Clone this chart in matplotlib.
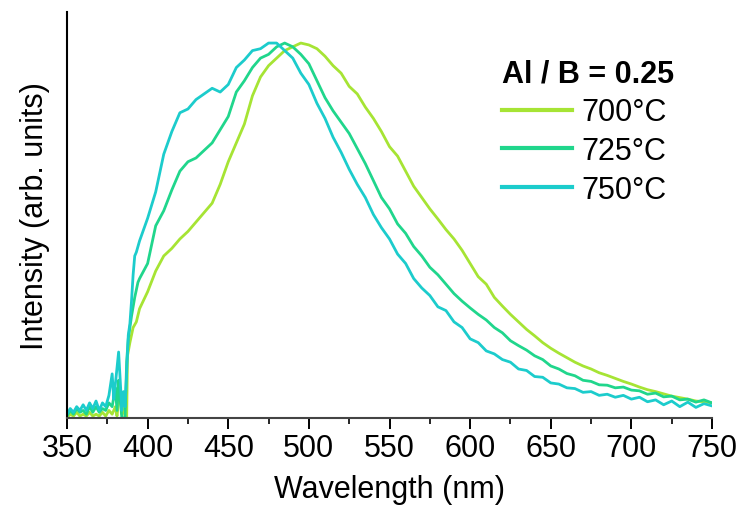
import numpy as np
import matplotlib
matplotlib.use("Agg")
from matplotlib import pyplot as plt
from matplotlib.ticker import MultipleLocator

plt.rcParams['font.family'] = ['Liberation Sans', 'DejaVu Sans']

# --- 700 C ---
wl_700 = [350, 352, 354, 356, 358, 360, 362, 364, 366, 368, 370, 372, 374, 376, 378, 380, 381,
          383, 384, 385, 386, 387, 387.5, 389, 391, 393, 395,
          400, 405, 410, 415, 420, 425, 430, 435, 440, 445, 450, 455, 460, 465, 470, 475, 480,
          485, 490, 495, 500, 505, 510, 515, 520, 525, 530, 535, 540, 545, 550, 555, 560, 565,
          570, 575, 580, 585, 590, 595, 600, 605, 610, 615, 620, 625, 630, 635, 640, 645, 650,
          655, 660, 665, 670, 675, 680, 685, 690, 695, 700, 705, 710, 715, 720, 725, 730, 735,
          740, 745, 750]
int_700 = [0.0, 0.01, 0.005, 0.015, 0.005, 0.01, 0.005, 0.015, 0.005, 0.01, 0.005, 0.015, 0.005,
           0.02, 0.01, 0.03, 0.005, 0.08, 0.01, 0.05, 0.0, 0.0, 0.165, 0.2, 0.24, 0.255, 0.29,
           0.335, 0.39, 0.43, 0.45, 0.475, 0.495, 0.52, 0.545, 0.57, 0.62, 0.68, 0.73, 0.78, 0.855,
           0.905, 0.935, 0.955, 0.975, 0.985, 0.995, 0.99, 0.98, 0.96, 0.935, 0.915, 0.88, 0.86,
           0.825, 0.795, 0.76, 0.72, 0.695, 0.655, 0.615, 0.585, 0.555, 0.528, 0.5, 0.475, 0.445,
           0.41, 0.375, 0.355, 0.32, 0.297, 0.275, 0.255, 0.235, 0.218, 0.2, 0.185, 0.172, 0.16,
           0.148, 0.138, 0.13, 0.12, 0.113, 0.105, 0.097, 0.09, 0.082, 0.075, 0.07, 0.064, 0.058,
           0.054, 0.05, 0.045, 0.043, 0.04]

# --- 725 C ---
wl_725 = [350, 352, 354, 356, 358, 360, 362, 364, 366, 368, 370, 372, 374, 376, 378, 380, 381,
          382, 383, 384, 386, 387, 388, 390, 392, 394,
          395, 400, 405, 410, 415, 420, 425, 430, 435, 440, 445, 450, 455, 460, 465, 470, 475,
          480, 485, 490, 495, 500, 505, 510, 515, 520, 525, 530, 535, 540, 545, 550, 555, 560,
          565, 570, 575, 580, 585, 590, 595, 600, 605, 610, 615, 620, 625, 630, 635, 640, 645,
          650, 655, 660, 665, 670, 675, 680, 685, 690, 695, 700, 705, 710, 715, 720, 725, 730,
          735, 740, 745, 750]
int_725 = [0.005, 0.02, 0.01, 0.025, 0.015, 0.02, 0.01, 0.03, 0.015, 0.03, 0.015, 0.025, 0.02,
           0.04, 0.03, 0.08, 0.02, 0.1, 0.05, 0.0, 0.0, 0.15, 0.21, 0.27, 0.32, 0.36,
           0.37, 0.41, 0.51, 0.55, 0.605, 0.655, 0.68, 0.69, 0.71, 0.73, 0.765, 0.8, 0.865, 0.895,
           0.93, 0.955, 0.965, 0.985, 0.995, 0.985, 0.965, 0.94, 0.895, 0.85, 0.815, 0.785, 0.755,
           0.715, 0.675, 0.63, 0.585, 0.555, 0.515, 0.49, 0.455, 0.43, 0.4, 0.38, 0.355, 0.33,
           0.31, 0.292, 0.275, 0.26, 0.24, 0.226, 0.205, 0.192, 0.18, 0.165, 0.155, 0.138, 0.13,
           0.118, 0.112, 0.1, 0.097, 0.088, 0.087, 0.08, 0.082, 0.074, 0.072, 0.063, 0.066, 0.056,
           0.058, 0.048, 0.05, 0.042, 0.048, 0.04]

# --- 750 C ---
wl_750 = [350, 352, 354, 356, 358, 360, 362, 364, 366, 368, 370, 372, 374, 376, 378, 379, 380,
          382, 383, 384, 385, 386, 387, 388, 389, 390, 391, 392, 393,
          395, 400, 405, 410, 415, 420, 425, 430, 435, 440, 445, 450, 455, 460, 465, 470, 475,
          480, 485, 490, 495, 500, 505, 510, 515, 520, 525, 530, 535, 540, 545, 550, 555, 560,
          565, 570, 575, 580, 585, 590, 595, 600, 605, 610, 615, 620, 625, 630, 635, 640, 645,
          650, 655, 660, 665, 670, 675, 680, 685, 690, 695, 700, 705, 710, 715, 720, 725, 730,
          735, 740, 745, 750]
int_750 = [0.01, 0.025, 0.015, 0.03, 0.02, 0.035, 0.02, 0.04, 0.025, 0.045, 0.02, 0.04, 0.03,
           0.06, 0.117, 0.05, 0.09, 0.175, 0.1, 0.02, 0.07, 0.03, 0.12, 0.22, 0.25, 0.31, 0.38,
           0.43, 0.44,
           0.47, 0.53, 0.6, 0.7, 0.76, 0.81, 0.82, 0.845, 0.86, 0.875, 0.865, 0.885, 0.93, 0.95,
           0.975, 0.98, 0.995, 0.995, 0.975, 0.955, 0.915, 0.885, 0.835, 0.795, 0.745, 0.705,
           0.66, 0.62, 0.585, 0.54, 0.505, 0.475, 0.435, 0.41, 0.37, 0.345, 0.325, 0.295, 0.285,
           0.255, 0.24, 0.21, 0.2, 0.178, 0.17, 0.155, 0.148, 0.13, 0.126, 0.11, 0.108, 0.093,
           0.09, 0.08, 0.078, 0.068, 0.07, 0.06, 0.063, 0.055, 0.06, 0.05, 0.055, 0.043, 0.048,
           0.035, 0.045, 0.03, 0.042, 0.028, 0.038, 0.032]

labels = ['700°C', '725°C', '750°C']
colors = ['#a6e434', '#20d68c', '#1ccccc']

fig = plt.figure(figsize=(7.42, 5.06), dpi=100)
ax = fig.add_axes([0.0903, 0.172, 0.8693, 0.802])

lines = []
for wl, inten, lab, col in zip([wl_700, wl_725, wl_750], [int_700, int_725, int_750], labels, colors):
    l, = ax.plot(wl, inten, color=col, lw=2.0, label=lab)
    lines.append(l)

ax.set_xlim(350, 750)
ax.set_ylim(0, 1.077)
ax.xaxis.set_major_locator(MultipleLocator(50))
ax.xaxis.set_minor_locator(MultipleLocator(25))
ax.set_yticks([])

for s in ['top', 'right']:
    ax.spines[s].set_visible(False)
ax.spines['left'].set_linewidth(1.5)
ax.spines['bottom'].set_linewidth(1.5)
ax.spines['bottom'].set_color('#444444')

ax.tick_params(axis='x', which='major', direction='out', length=8, width=1.4, labelsize=22, pad=3)
ax.tick_params(axis='x', which='minor', direction='out', length=4, width=1.2)

ax.set_xlabel('Wavelength (nm)', fontsize=22, labelpad=8)
ax.set_ylabel('Intensity (arb. units)', fontsize=22, labelpad=12)

leg = ax.legend(handles=lines, title='Al / B = 0.25', frameon=False, fontsize=22,
                loc='upper left', bbox_to_anchor=(0.655, 0.915), handlelength=2.3,
                handletextpad=0.3, labelspacing=0.28, alignment='left', borderaxespad=0)
leg.get_title().set_fontsize(22)
leg.get_title().set_fontweight('bold')
for h in leg.get_lines():
    h.set_linewidth(3)

fig.savefig('out.png', dpi=100)
